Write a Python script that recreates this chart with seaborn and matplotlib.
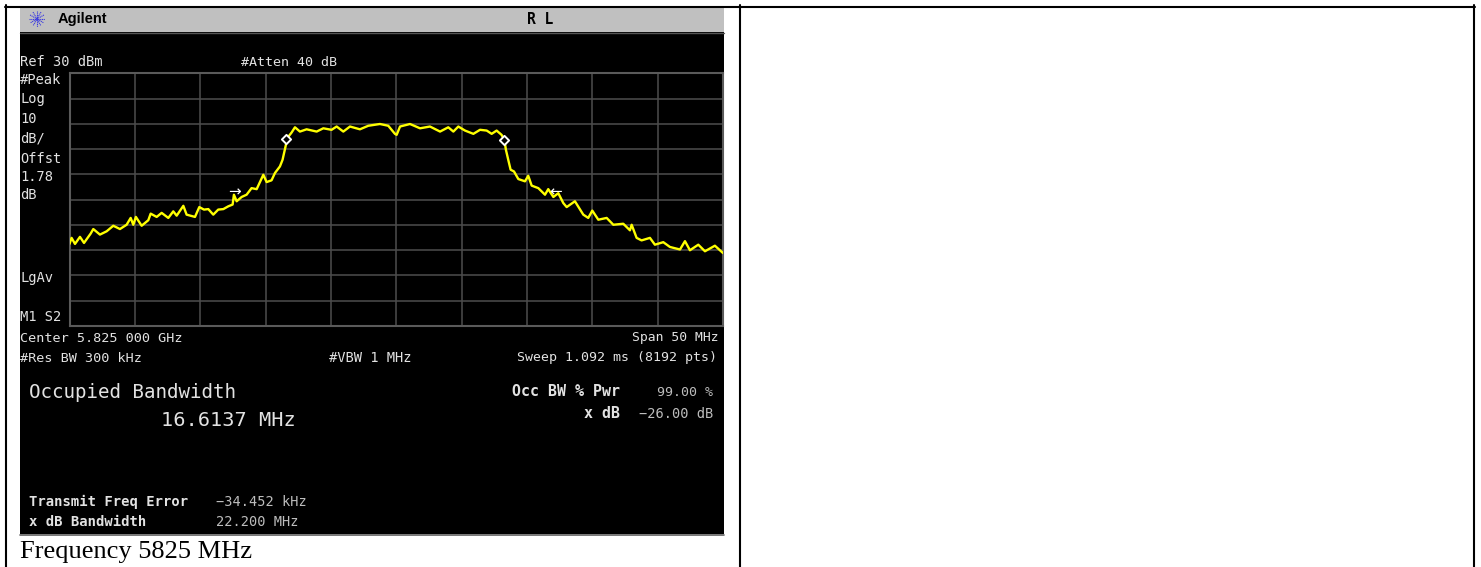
import matplotlib
matplotlib.use("Agg")
import matplotlib.pyplot as plt
from matplotlib.patches import Rectangle
from matplotlib.ticker import MultipleLocator, NullFormatter
import numpy as np
import pandas as pd
import seaborn as sns

freq_mhz = [5800.0,5800.16,5800.42,5800.80,5801.11,5801.62,5801.82,5802.33,5802.84,5803.35,5803.86,5804.37,
5804.68,5804.88,5805.08,5805.52,5806.03,5806.21,5806.67,5807.05,5807.56,5807.94,5808.20,5808.71,5808.96,
5809.60,5809.93,5810.29,5810.62,5811.00,5811.38,5811.77,5812.15,5812.48,5812.58,5812.79,5813.17,5813.55,
5813.93,5814.32,5814.83,5815.08,5815.46,5815.72,5816.10,5816.30,5816.56,5816.66,5816.99,5817.25,5817.63,
5818.14,5818.91,5819.42,5820.05,5820.44,5820.95,5821.46,5822.22,5822.86,5823.75,5824.39,5824.90,5825.03,
5825.29,5826.05,5826.82,5827.58,5828.35,5828.98,5829.37,5829.75,5830.26,5830.90,5831.41,5831.92,5832.30,
5832.68,5833.06,5833.27,5833.39,5833.57,5833.75,5834.01,5834.34,5834.85,5835.10,5835.36,5835.87,5836.38,
5836.63,5837.02,5837.40,5837.78,5838.04,5838.67,5839.31,5839.69,5840.0,5840.46,5841.10,5841.61,5842.37,
5842.88,5843.01,5843.39,5843.77,5844.41,5844.79,5845.43,5845.94,5846.71,5847.09,5847.47,5848.11,5848.62,
5849.38,5850.0]
level_dbm = [-37.5,-35.1,-37.5,-34.7,-37.1,-33.4,-31.6,-33.8,-32.5,-30.3,-31.6,-29.9,
-27.2,-29.9,-26.8,-30.3,-28.1,-25.5,-26.8,-25.2,-27.2,-24.6,-26.3,-22.4,-25.9,
-26.8,-22.9,-23.9,-23.7,-25.9,-23.9,-23.7,-22.6,-21.9,-18.0,-20.6,-18.9,-18.0,
-15.4,-15.8,-10.1,-13.0,-12.3,-9.4,-6.8,-4.2,1.8,4.4,6.6,8.7,7.0,
7.9,7.0,8.3,7.7,9.0,7.0,9.0,7.9,9.3,10.0,9.3,6.1,5.7,
9.0,10.0,8.3,9.0,7.0,8.7,7.0,9.0,7.4,6.1,7.7,7.4,6.1,
7.4,5.7,3.7,-0.2,-4.2,-8.1,-8.8,-11.8,-12.7,-10.5,-14.4,-15.4,-18.0,
-15.8,-18.9,-17.4,-21.3,-22.9,-20.6,-25.9,-27.2,-24.3,-27.9,-27.2,-29.9,-29.5,
-32.1,-29.9,-35.1,-36.1,-35.1,-37.8,-36.8,-38.7,-39.7,-36.4,-40.0,-37.8,-40.4,
-38.2,-41.1]
marker_freq = [5816.56, 5833.24]
marker_level = [4.1, 3.7]
left_arrow_freq, right_arrow_freq = 5812.65, 5837.2
arrow_level = -16.8

W, H = 1481, 567
sns.set_theme(style="dark", rc={"axes.grid": True})
plt.rcParams["font.family"] = ["DejaVu Sans Mono"]
fig = plt.figure(figsize=(W/100, H/100), dpi=100, facecolor="white")

# page / table overlay in pixel units
bg = fig.add_axes([0, 0, 1, 1], facecolor="white")
bg.set_xlim(0, W); bg.set_ylim(H, 0); bg.axis("off")
bg.add_patch(Rectangle((20, 7), 704, 527, fc="black", ec="none"))
bg.add_patch(Rectangle((20, 7), 704, 25, fc="#c0c0c0", ec="none"))
bg.plot([20, 724], [32.5, 32.5], color="#555555", lw=1)
bg.plot([20, 724], [534.5, 534.5], color="#606060", lw=1.2)
for xx in (6, 740, 1474):
    bg.plot([xx, xx], [5, H], color="black", lw=1.5)
bg.plot([5, 1475], [6.5, 6.5], color="black", lw=1.5)

# Agilent starburst
for a in np.arange(0, 180, 30):
    dx, dy = 8*np.cos(np.radians(a)), 8*np.sin(np.radians(a))
    bg.plot([37-dx, 37+dx], [19-dy, 19+dy], color="#3a3ae0", lw=0.8, ls=(0, (1, 0.6)))
bg.text(58, 19.5, "Agilent", family="Liberation Sans", weight="bold", size=10.5, color="black", va="center")
bg.text(527, 19, "R L", size=10.5, color="black", va="center", weight="bold")

normal = "#e2e2e2"; dim = "#bdbdbd"
texts = [
 (20,62,"Ref 30 dBm",9.9,"left",normal,"normal"),(241,62,"#Atten 40 dB",9.6,"left",normal,"normal"),
 (20,80,"#Peak",9.9,"left",normal,"normal"),(20,99,"Log",9.9,"left",normal,"normal"),
 (20,119,"10",9.9,"left",normal,"normal"),(20,139,"dB/",9.9,"left",normal,"normal"),
 (20,159,"Offst",9.9,"left",normal,"normal"),(20,177,"1.78",9.9,"left",normal,"normal"),
 (20,195,"dB",9.9,"left",normal,"normal"),(20,278,"LgAv",9.9,"left",normal,"normal"),
 (20,317,"M1 S2",9.9,"left",normal,"normal"),
 (20,338,"Center 5.825 000 GHz",9.7,"left",normal,"normal"),(719,338,"Span 50 MHz",9.4,"right",normal,"normal"),
 (20,358,"#Res BW 300 kHz",9.7,"left",normal,"normal"),(329,358,"#VBW 1 MHz",9.9,"left",normal,"normal"),
 (717,358,"Sweep 1.092 ms (8192 pts)",9.5,"right",normal,"normal"),
 (29,393,"Occupied Bandwidth",13.8,"left",normal,"normal"),(161,421,"16.6137 MHz",14.6,"left",normal,"normal"),
 (620,392,"Occ BW % Pwr",10.8,"right",normal,"bold"),(713,392,"99.00 %",9.5,"right",dim,"normal"),
 (620,414,"x dB",10.8,"right",normal,"bold"),(713,414,"\u221226.00 dB",9.8,"right",dim,"normal"),
 (29,502,"Transmit Freq Error",10,"left",normal,"bold"),(29,522,"x dB Bandwidth",10,"left",normal,"bold"),
 (216,502,"\u221234.452 kHz",9.8,"left",dim,"normal"),(216,522,"22.200 MHz",9.8,"left",dim,"normal"),
]
for x, y, s, size, ha, col, wt in texts:
    bg.text(x, y, s, size=size, ha=ha, va="center", color=col, weight=wt)
bg.text(20, 552, "Frequency 5825 MHz", family="Liberation Serif", size=19, color="black", va="center")

# analyser plot
x0, x1, y0, y1 = 69.5, 723, 73.5, 326
ax = fig.add_axes([x0/W, 1-y1/H, (x1-x0)/W, (y1-y0)/H], facecolor="black")
df = pd.DataFrame({"freq": freq_mhz, "level": level_dbm})
sns.lineplot(data=df, x="freq", y="level", sort=False, errorbar=None, color="#ffff00", lw=1.7, ax=ax, zorder=3)
sns.scatterplot(x=marker_freq, y=marker_level, marker="D", s=22, facecolor="black", edgecolor="white", linewidth=1.4, ax=ax, zorder=4)
ax.set_xlim(5800, 5850); ax.set_ylim(-70, 30)
ax.xaxis.set_major_locator(MultipleLocator(5)); ax.yaxis.set_major_locator(MultipleLocator(10))
ax.xaxis.set_major_formatter(NullFormatter()); ax.yaxis.set_major_formatter(NullFormatter())
ax.tick_params(length=0)
ax.grid(True, color="#4d4d4d", lw=1.1)
ax.set_xlabel(""); ax.set_ylabel("")
for s in ax.spines.values():
    s.set_color("#5a5a5a"); s.set_linewidth(1.5)
ax.text(left_arrow_freq, arrow_level, "\u2192", color="white", size=11, ha="center", va="center", family="DejaVu Sans", zorder=5)
ax.text(right_arrow_freq, arrow_level, "\u2190", color="white", size=11, ha="center", va="center", family="DejaVu Sans", zorder=5)

fig.savefig("out.png", dpi=100, facecolor="white")
